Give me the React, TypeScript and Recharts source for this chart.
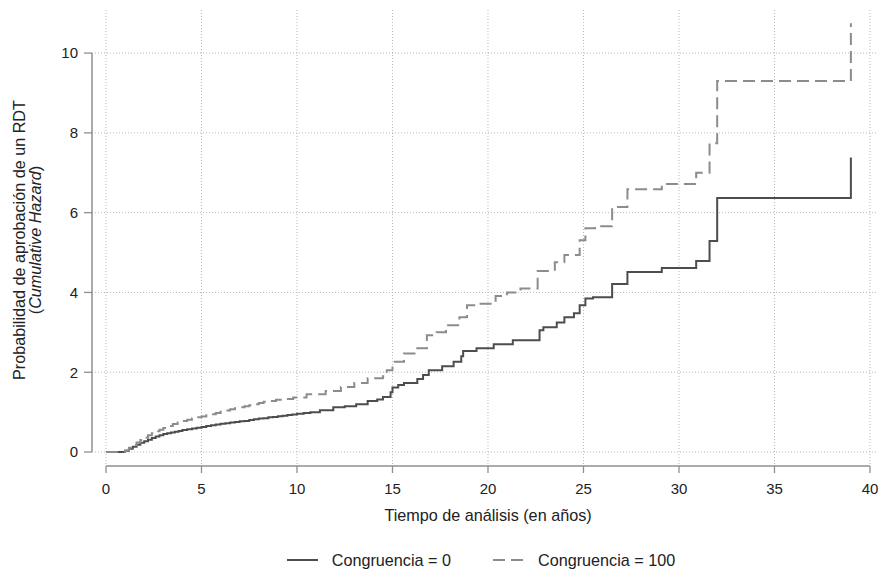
import {
  LineChart,
  Line,
  XAxis,
  YAxis,
  CartesianGrid,
  Legend,
  ReferenceLine,
} from 'recharts';

// Nelson-Aalen (cumulative hazard), step values from each time on
const tiempoCong0 = [
  0, 0.85, 1.0, 1.2, 1.4, 1.6, 1.8, 2.0, 2.2, 2.4, 2.6, 2.8, 3.0, 3.2, 3.4, 3.6, 3.8, 4.0, 4.25,
  4.5, 4.75, 5.0, 5.25, 5.5, 5.75, 6.0, 6.25, 6.5, 6.75, 7.0, 7.25, 7.5, 7.75, 8.0, 8.25, 8.5,
  8.75, 9.0, 9.25, 9.5, 9.75, 10.0, 10.35, 10.7, 11.2, 11.9, 12.5, 13.1, 13.7, 14.2, 14.5, 14.9,
  15.0, 15.3, 15.6, 16.3, 16.6, 16.9, 17.6, 18.2, 18.6, 18.7, 19.4, 20.3, 21.3, 22.7, 22.9,
  23.6, 24.0, 24.5, 24.8, 25.1, 25.5, 26.5, 27.3, 29.1, 30.9, 31.6, 32.0, 39.0,
];
const hazardCong0 = [
  0, 0, 0.03, 0.08, 0.13, 0.18, 0.23, 0.27, 0.31, 0.35, 0.39, 0.42, 0.45, 0.47, 0.49, 0.51, 0.53,
  0.55, 0.57, 0.59, 0.61, 0.63, 0.65, 0.67, 0.69, 0.71, 0.72, 0.74, 0.75, 0.77, 0.78, 0.8, 0.82,
  0.84, 0.85, 0.87, 0.88, 0.9, 0.91, 0.93, 0.94, 0.96, 0.98, 1.0, 1.05, 1.12, 1.15, 1.2, 1.28,
  1.32, 1.38, 1.5, 1.62, 1.68, 1.73, 1.83, 1.93, 2.05, 2.15, 2.26, 2.4, 2.53, 2.6, 2.7, 2.8,
  3.05, 3.13, 3.25, 3.38, 3.48, 3.68, 3.85, 3.88, 4.21, 4.51, 4.61, 4.79, 5.29, 6.37, 7.38,
];

const tiempoCong100 = [
  0, 0.85, 1.0, 1.2, 1.4, 1.6, 1.8, 2.0, 2.2, 2.4, 2.6, 2.8, 3.0, 3.25, 3.5, 3.75, 4.0, 4.25,
  4.5, 4.75, 5.0, 5.25, 5.5, 5.75, 6.0, 6.25, 6.5, 6.75, 7.0, 7.25, 7.5, 7.75, 8.0, 8.25, 8.5,
  8.9, 9.3, 9.8, 10.5, 11.5, 12.3, 13.0, 13.7, 14.5, 14.7, 15.0, 15.6, 16.3, 16.8, 17.3, 17.8,
  18.5, 18.9, 19.5, 20.4, 21.0, 21.7, 22.6, 23.5, 24.0, 24.8, 25.1, 25.6, 26.5, 27.3, 29.1,
  30.9, 31.6, 32.0, 39.0,
];
const hazardCong100 = [
  0, 0, 0.04, 0.11, 0.17, 0.24, 0.3, 0.36, 0.42, 0.47, 0.52, 0.56, 0.6, 0.65, 0.7, 0.74, 0.78,
  0.81, 0.84, 0.87, 0.89, 0.92, 0.95, 0.98, 1.01, 1.04, 1.07, 1.1, 1.12, 1.15, 1.17, 1.2, 1.23,
  1.26, 1.28, 1.31, 1.33, 1.37, 1.45, 1.53, 1.63, 1.73, 1.85, 1.9, 2.05, 2.26, 2.47, 2.6, 2.93,
  3.0, 3.18, 3.38, 3.68, 3.72, 3.91, 4.0, 4.1, 4.54, 4.76, 4.94, 5.31, 5.61, 5.66, 6.14, 6.59,
  6.72, 7.0, 7.74, 9.3, 10.75,
];

const xTicks = [0, 5, 10, 15, 20, 25, 30, 35, 40];
const yTicks = [0, 2, 4, 6, 8, 10];

const serieCong0 = tiempoCong0.map((t, i) => ({ t, h: hazardCong0[i] }));
const serieCong100 = tiempoCong100.map((t, i) => ({ t, h: hazardCong100[i] }));

const FONT = '"Liberation Sans", Arial, Helvetica, sans-serif';
const AXIS_GRAY = '#8f8f8f';
const TEXT = '#222';
const X_DOMAIN: [number, number] = [-0.733, 40.42];
const Y_DOMAIN: [number, number] = [-0.35, 11.08];

const YLabel = (props: any) => {
  const vb = props.viewBox || { y: 10, height: 456 };
  const cy = vb.y + vb.height / 2 + 2;
  return (
    <g fontFamily={FONT} fontSize={16.2} fill={TEXT}>
      <text x={19} y={cy} textAnchor="middle" dominantBaseline="central" transform={`rotate(-90, 19, ${cy})`}>
        Probabilidad de aprobación de un RDT
      </text>
      <text x={35} y={cy} textAnchor="middle" dominantBaseline="central" transform={`rotate(-90, 35, ${cy})`}>
        (<tspan fontStyle="italic">Cumulative Hazard</tspan>)
      </text>
    </g>
  );
};

const XLabel = (props: any) => {
  const vb = props.viewBox || { x: 92, width: 786 };
  return (
    <text x={vb.x + vb.width / 2 + 3} y={515} textAnchor="middle" dominantBaseline="central" fontFamily={FONT} fontSize={16.2} fill={TEXT}>
      Tiempo de análisis (en años)
    </text>
  );
};

const Leyenda = () => (
  <div style={{ display: 'flex', justifyContent: 'center', alignItems: 'center', fontFamily: FONT, fontSize: 16.2, color: TEXT, height: 24 }}>
    <svg width={31} height={4} style={{ marginRight: 14 }}>
      <line x1={0} y1={2} x2={31} y2={2} stroke="#4d4d4d" strokeWidth={2} />
    </svg>
    <span style={{ marginRight: 42 }}>Congruencia = 0</span>
    <svg width={31} height={4} style={{ marginRight: 14 }}>
      <line x1={0} y1={2} x2={31} y2={2} stroke="#8c8c8c" strokeWidth={2} strokeDasharray="12 6" />
    </svg>
    <span>Congruencia = 100</span>
  </div>
);

const App = () => (
  <div style={{ position: 'absolute', left: 0, top: 0, width: 880, height: 571, background: '#fff' }}>
    <LineChart width={880} height={571} margin={{ top: 10, right: 2, bottom: 65, left: 0 }}>
      <CartesianGrid stroke="#b8b8b8" strokeDasharray="1 2" horizontalValues={yTicks} verticalValues={xTicks} />
      <XAxis
        type="number"
        dataKey="t"
        domain={X_DOMAIN}
        allowDataOverflow
        ticks={xTicks}
        height={40}
        axisLine={false}
        tickLine={{ stroke: AXIS_GRAY, strokeWidth: 1.3 }}
        tickSize={7}
        tickMargin={10}
        tick={{ fill: TEXT, fontSize: 15, fontFamily: FONT }}
        label={XLabel}
      />
      <YAxis
        type="number"
        domain={Y_DOMAIN}
        allowDataOverflow
        ticks={yTicks}
        width={92}
        axisLine={false}
        tickLine={{ stroke: AXIS_GRAY, strokeWidth: 1.3 }}
        tickSize={8}
        tickMargin={6}
        tick={{ fill: TEXT, fontSize: 15, fontFamily: FONT }}
        label={YLabel}
      />
      <ReferenceLine
        segment={[{ x: X_DOMAIN[0], y: 0 }, { x: X_DOMAIN[0], y: 10 }]}
        stroke={AXIS_GRAY}
        strokeWidth={1.5}
        ifOverflow="visible"
      />
      <ReferenceLine
        segment={[{ x: 0, y: Y_DOMAIN[0] }, { x: 40, y: Y_DOMAIN[0] }]}
        stroke={AXIS_GRAY}
        strokeWidth={1.5}
        ifOverflow="visible"
      />
      <Line
        data={serieCong0}
        dataKey="h"
        name="Congruencia = 0"
        type="stepAfter"
        stroke="#4d4d4d"
        strokeWidth={2}
        dot={false}
        activeDot={false}
        isAnimationActive={false}
      />
      <Line
        data={serieCong100}
        dataKey="h"
        name="Congruencia = 100"
        type="stepAfter"
        stroke="#8c8c8c"
        strokeWidth={2}
        strokeDasharray="12 6"
        dot={false}
        activeDot={false}
        isAnimationActive={false}
      />
      <Legend
        layout="horizontal"
        verticalAlign="middle"
        align="center"
        content={Leyenda}
        wrapperStyle={{ top: 548, left: 41, width: 880, height: 24 }}
      />
    </LineChart>
  </div>
);

export default App;
